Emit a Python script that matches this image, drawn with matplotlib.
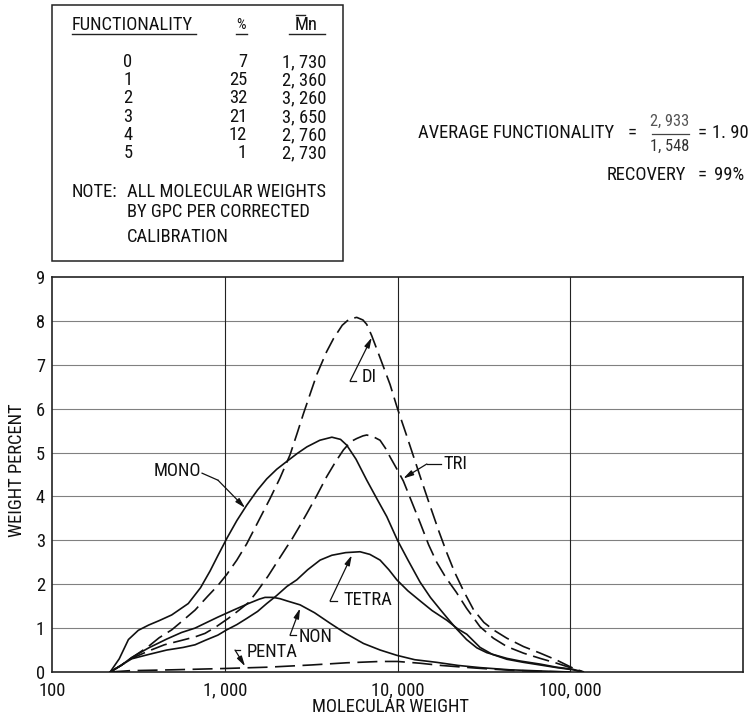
import os
import matplotlib
matplotlib.use("Agg")
import matplotlib.pyplot as plt
from matplotlib import font_manager as fm
from matplotlib.patches import Rectangle
from matplotlib.lines import Line2D


def pick_narrow_font():
    """Find a condensed sans face, if one is installed."""
    families = ['Liberation Sans Narrow', 'Arial Narrow', 'Roboto Condensed',
                'Noto Sans Condensed', 'Open Sans Condensed', 'DejaVu Sans Condensed',
                'Noto Sans', 'DejaVu Sans', 'Open Sans', 'Roboto']
    for fam in families:
        for st in ['condensed', 'semi-condensed', 'normal']:
            try:
                path = fm.findfont(fm.FontProperties(family=fam, stretch=st),
                                   fallback_to_default=False)
            except Exception:
                continue
            name = os.path.basename(path).lower()
            if 'condensed' in name or 'narrow' in name or 'cond' in name:
                return fam, st, True
    return 'DejaVu Sans', 'normal', False


FAMILY, STRETCH, NARROW = pick_narrow_font()
plt.rcParams['font.family'] = [FAMILY, 'DejaVu Sans']
plt.rcParams['font.stretch'] = STRETCH
FS = 13.3 if NARROW else 11.0

# ---- GPC distributions by functionality (molecular weight vs weight percent) ----
mono_mw = [217, 245, 277, 316, 363, 417, 493, 615, 724, 822, 912, 1030, 1175, 1340,
           1550, 1750, 2000, 2290, 2630, 2990, 3550, 4170, 4680, 5080, 5750, 6640,
           7590, 8670, 10000, 11500, 13500, 15500, 17700, 20000, 22000, 25100, 28800,
           32900, 43000, 51300, 67000, 83200, 104000, 117500]
mono_wt = [0, 0.30, 0.74, 0.95, 1.07, 1.17, 1.30, 1.56, 1.92, 2.30, 2.65, 3.05, 3.45, 3.80,
           4.15, 4.40, 4.62, 4.80, 4.98, 5.13, 5.28, 5.35, 5.30, 5.17, 4.85, 4.37,
           3.95, 3.54, 3.00, 2.55, 2.05, 1.70, 1.42, 1.17, 0.98, 0.74, 0.55,
           0.44, 0.31, 0.25, 0.18, 0.11, 0.06, 0]

di_mw = [217, 251, 296, 361, 417, 493, 575, 673, 794, 912, 1026, 1175, 1340, 1549, 1828,
         2089, 2388, 2630, 2851, 3162, 3412, 3890, 4266, 4786, 5248, 5808, 6310, 6637,
         7096, 7943, 9057, 10000, 11220, 12359, 13804, 15453, 17378, 19275, 21380, 24099,
         27542, 31623, 35892, 42954, 53580, 66988, 83560, 104713, 120226]
di_wt = [0, 0.15, 0.35, 0.58, 0.78, 0.96, 1.18, 1.41, 1.72, 1.97, 2.22, 2.55, 2.92, 3.40, 3.95,
         4.42, 4.95, 5.45, 5.88, 6.40, 6.78, 7.30, 7.60, 7.90, 8.04, 8.08, 8.02, 7.92,
         7.66, 7.15, 6.55, 6.00, 5.42, 4.92, 4.35, 3.78, 3.20, 2.72, 2.28, 1.85,
         1.42, 1.13, 0.96, 0.77, 0.58, 0.43, 0.27, 0.08, 0]

tri_mw = [217, 251, 289, 363, 447, 562, 673, 769, 891, 1047, 1202, 1371, 1549, 1778, 2042,
          2286, 2443, 2692, 2985, 3388, 3890, 4365, 4864, 5370, 5808, 6310, 6637, 7244,
          7925, 8511, 9057, 10000, 10814, 12023, 13521, 15136, 16866, 19055, 21878, 25119,
          30061, 35892, 42954, 53580, 66988, 83560, 100000, 117490]
tri_wt = [0, 0.15, 0.31, 0.48, 0.62, 0.72, 0.80, 0.88, 1.03, 1.22, 1.40, 1.58, 1.85, 2.18, 2.55,
          2.85, 3.02, 3.30, 3.61, 4.00, 4.45, 4.78, 5.06, 5.25, 5.32, 5.38, 5.40, 5.36,
          5.28, 5.10, 4.90, 4.60, 4.35, 3.90, 3.40, 2.90, 2.50, 2.15, 1.82, 1.45,
          1.03, 0.77, 0.58, 0.43, 0.31, 0.20, 0.10, 0]

tetra_mw = [217, 251, 289, 363, 461, 575, 673, 769, 912, 1026, 1175, 1340, 1549, 1750, 1995,
            2291, 2612, 3020, 3565, 4169, 5012, 6067, 6918, 7925, 8913, 9908, 11482, 13521,
            15849, 19275, 22387, 25177, 28000, 30061, 35481, 42954, 53580, 66988, 83560,
            103990, 117490]
tetra_wt = [0, 0.15, 0.30, 0.40, 0.50, 0.56, 0.62, 0.72, 0.84, 0.96, 1.08, 1.22, 1.38, 1.56, 1.74,
            1.95, 2.10, 2.33, 2.55, 2.66, 2.72, 2.74, 2.68, 2.55, 2.33, 2.10, 1.85, 1.62,
            1.40, 1.18, 0.98, 0.86, 0.68, 0.56, 0.40, 0.29, 0.22, 0.16, 0.10,
            0.05, 0]

non_mw = [217, 251, 289, 363, 461, 562, 673, 769, 912, 1122, 1371, 1585, 1710, 1905, 2089,
          2291, 2729, 3311, 4074, 5012, 6353, 7943, 9908, 12589, 16866, 22387, 30061,
          44668, 70795, 100000]
non_wt = [0, 0.15, 0.33, 0.55, 0.75, 0.90, 1.00, 1.11, 1.25, 1.41, 1.56, 1.66, 1.70, 1.70, 1.67,
          1.62, 1.53, 1.35, 1.11, 0.88, 0.65, 0.50, 0.38, 0.28, 0.22, 0.15, 0.10,
          0.05, 0.02, 0]

penta_mw = [217, 282, 501, 1000, 1778, 3162, 5082, 7943, 10000, 13490, 17783, 28184, 44668,
            70795, 100000]
penta_wt = [0, 0.03, 0.05, 0.08, 0.11, 0.16, 0.21, 0.24, 0.24, 0.20, 0.15, 0.09, 0.04,
            0.01, 0]

# ---- summary table ----
func_levels = ['0', '1', '2', '3', '4', '5']
func_percent = ['7', '25', '32', '21', '12', '1']
func_mn = ['1, 730', '2, 360', '3, 260', '3, 650', '2, 760', '2, 730']
note_lines = ['ALL MOLECULAR WEIGHTS', 'BY GPC PER CORRECTED', 'CALIBRATION']

x_ticks = [100, 1000, 10000, 100000]
x_tick_labels = ['100', '1, 000', '10, 000', '100, 000']
y_ticks = list(range(10))

W, H = 754, 721
INK = '#111111'
fig = plt.figure(figsize=(W / 100, H / 100), dpi=100)
fig.patch.set_facecolor('white')


def fpx(x, y):
    """pixel position (from top-left) -> figure fraction"""
    return x / W, 1 - y / H


ax = fig.add_axes([52 / W, (H - 672) / H, 691 / W, 395 / H])
ax.set_xscale('log')
ax.set_xlim(100, 1e6)
ax.set_ylim(0, 9)

# grid
for yv in y_ticks[1:-1]:
    ax.axhline(yv, color='#808080', lw=0.8, zorder=1)
for xv in x_ticks[1:]:
    ax.axvline(xv, color='#222222', lw=0.8, zorder=1)
for s in ax.spines.values():
    s.set_linewidth(1.2)
    s.set_color('#222222')

ax.set_xticks(x_ticks)
ax.set_xticklabels(x_tick_labels)
ax.set_yticks(y_ticks)
ax.xaxis.set_minor_locator(matplotlib.ticker.NullLocator())
ax.tick_params(axis='both', length=0, labelsize=FS, colors=INK)
ax.tick_params(axis='x', pad=7)
ax.tick_params(axis='y', pad=5)
fig.text(*fpx(390, 707), 'MOLECULAR WEIGHT', ha='center', va='center', fontsize=FS, color=INK)
fig.text(*fpx(17, 470), 'WEIGHT PERCENT', ha='center', va='center', rotation=90,
         fontsize=FS, color=INK)

solid = dict(color=INK, lw=1.2, solid_joinstyle='round', zorder=3)
dashed = dict(color=INK, lw=1.2, dashes=(10, 4), zorder=3)

ax.plot(mono_mw, mono_wt, **solid)
ax.plot(tetra_mw, tetra_wt, **solid)
ax.plot(non_mw, non_wt, **solid)
ax.plot(di_mw, di_wt, **dashed)
ax.plot(tri_mw, tri_wt, **dashed)
ax.plot(penta_mw, penta_wt, color=INK, lw=1.2, dashes=(12, 4.5), zorder=3)

# curve labels with hooked leaders: (label, text pos, text align, hook start, corner, tip)
labels = [
    ('MONO', (729, 4.58), 'right', (739, 4.53), (914, 4.37), (1311, 3.74)),
    ('DI', (6180, 6.72), 'left', (5755, 6.63), (5317, 6.63), (7096, 7.62)),
    ('TRI', (18450, 4.74), 'left', (17890, 4.74), (14780, 4.74), (10810, 4.41)),
    ('TETRA', (4862, 1.64), 'left', (4452, 1.62), (4072, 1.62), (5438, 2.66)),
    ('NON', (2669, 0.79), 'left', (2600, 0.84), (2388, 0.84), (2729, 1.45)),
    ('PENTA', (1341, 0.46), 'left', (1227, 0.50), (1147, 0.50), (1311, 0.13)),
]
for name, tpos, ha, start, corner, tip in labels:
    ax.text(tpos[0], tpos[1], name, ha=ha, va='center', fontsize=FS, color=INK, zorder=5)
    ax.add_line(Line2D([start[0], corner[0]], [start[1], corner[1]], color=INK, lw=0.9, zorder=4))
    ax.annotate('', xy=tip, xytext=corner,
                arrowprops=dict(arrowstyle='-|>,head_length=0.6,head_width=0.16',
                                color=INK, lw=0.9, shrinkA=0, shrinkB=0),
                zorder=4)

# ---- table box ----
fig.patches.append(Rectangle(fpx(52, 261), 291 / W, 256 / H, transform=fig.transFigure,
                             fill=False, edgecolor='#222222', lw=1.1))
tk = dict(fontsize=FS, color=INK, va='center')
fig.text(*fpx(72, 25), 'FUNCTIONALITY', ha='left', **tk)
fig.text(*fpx(241, 25), '%', ha='center', fontsize=FS - 2.5, color=INK, va='center')
fig.text(*fpx(306, 25), 'Mn', ha='center', **tk)
for x0, x1 in [(72, 196), (236, 247), (289, 325)]:
    fig.add_artist(Line2D([x0 / W, x1 / W], [1 - 34 / H, 1 - 34 / H], color='#222222', lw=1.0))
fig.add_artist(Line2D([296 / W, 305 / W], [1 - 15 / H, 1 - 15 / H], color='#222222', lw=1.0))

row_y = [62, 80, 98, 117, 135, 153]
for ry, lv, pc, mn in zip(row_y, func_levels, func_percent, func_mn):
    fig.text(*fpx(128, ry), lv, ha='center', **tk)
    fig.text(*fpx(247, ry), pc, ha='right', **tk)
    fig.text(*fpx(326, ry), mn, ha='right', **tk)

fig.text(*fpx(72, 192), 'NOTE:', ha='left', **tk)
for ny, line in zip([192, 212, 237], note_lines):
    fig.text(*fpx(127, ny), line, ha='left', **tk)

# ---- summary values ----
fig.text(*fpx(614, 133), 'AVERAGE FUNCTIONALITY', ha='right', **tk)
fig.text(*fpx(632, 133), '=', ha='center', **tk)
fig.text(*fpx(670, 121), '2, 933', ha='center', fontsize=FS - 1.5, color='#555555', va='center')
fig.add_artist(Line2D([652 / W, 689 / W], [1 - 134 / H, 1 - 134 / H], color='#444444', lw=0.9))
fig.text(*fpx(670, 146), '1, 548', ha='center', fontsize=FS - 1.5, color='#333333', va='center')
fig.text(*fpx(702, 133), '=', ha='center', **tk)
fig.text(*fpx(749, 133), '1. 90', ha='right', **tk)
fig.text(*fpx(686, 175), 'RECOVERY', ha='right', **tk)
fig.text(*fpx(702, 175), '=', ha='center', **tk)
fig.text(*fpx(744, 175), '99%', ha='right', **tk)

fig.savefig('out.png', dpi=100, facecolor='white')
